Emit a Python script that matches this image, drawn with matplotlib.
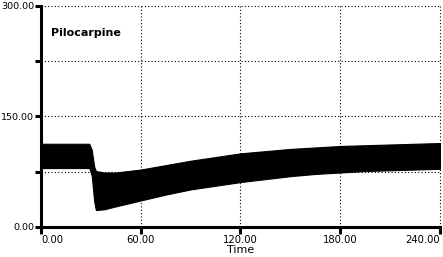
import matplotlib
matplotlib.use('Agg')
from matplotlib import pyplot as plt

# envelope of the oscillating pressure trace
tempo = [0, 29, 30.5, 32, 33, 38, 45, 60, 75, 90, 105, 120, 135, 150, 165, 180, 195, 210, 225, 240]
topo = [113, 113, 105, 82, 76, 74, 74, 78, 84, 90, 95, 100, 103, 106, 108, 110, 111, 112, 113, 114]
base = [80, 80, 70, 35, 23, 24, 28, 36, 44, 51, 56, 61, 65, 69, 72, 74, 76, 77, 78, 79]

ticks_x = [0, 60, 120, 180, 240]
ticks_y = [0, 75, 150, 225, 300]
rotulos_y = ['0.00', '', '150.00', '', '300.00']
titulo = 'Pilocarpine'

fig = plt.figure(figsize=(4.43, 2.57), dpi=100)
ax = fig.add_axes([41 / 443, 1 - 227 / 257, 399 / 443, 221 / 257])

ax.fill_between(tempo, base, topo, color='black', linewidth=0.8, edgecolor='black')

ax.set_xlim(0, 240)
ax.set_ylim(0, 300)

# grade pontilhada
for v in ticks_y[1:]:
    ax.axhline(v, color='black', linestyle=(0, (1, 2)), linewidth=0.8, clip_on=False, zorder=0)
for v in ticks_x[1:]:
    ax.axvline(v, color='black', linestyle=(0, (1, 2)), linewidth=0.8, clip_on=False, zorder=0)

for lado in ['top', 'right']:
    ax.spines[lado].set_visible(False)
for lado in ['left', 'bottom']:
    ax.spines[lado].set_linewidth(2.2)

ax.set_xticks(ticks_x)
ax.set_xticklabels([f'{v:.2f}' for v in ticks_x], fontsize=7.2)
ax.set_yticks(ticks_y)
ax.set_yticklabels(rotulos_y, fontsize=6.8)
ax.tick_params(direction='out', length=5, width=2.2, pad=1)
ax.tick_params(axis='y', length=4)

rot = ax.get_xticklabels()
rot[0].set_horizontalalignment('left')
rot[-1].set_horizontalalignment('right')

ax.set_xlabel('Time', fontsize=8, labelpad=0)
ax.text(0.025, 0.88, titulo, transform=ax.transAxes, fontsize=8, fontweight='bold',
        va='center', ha='left')

fig.savefig('out.png', dpi=100)
